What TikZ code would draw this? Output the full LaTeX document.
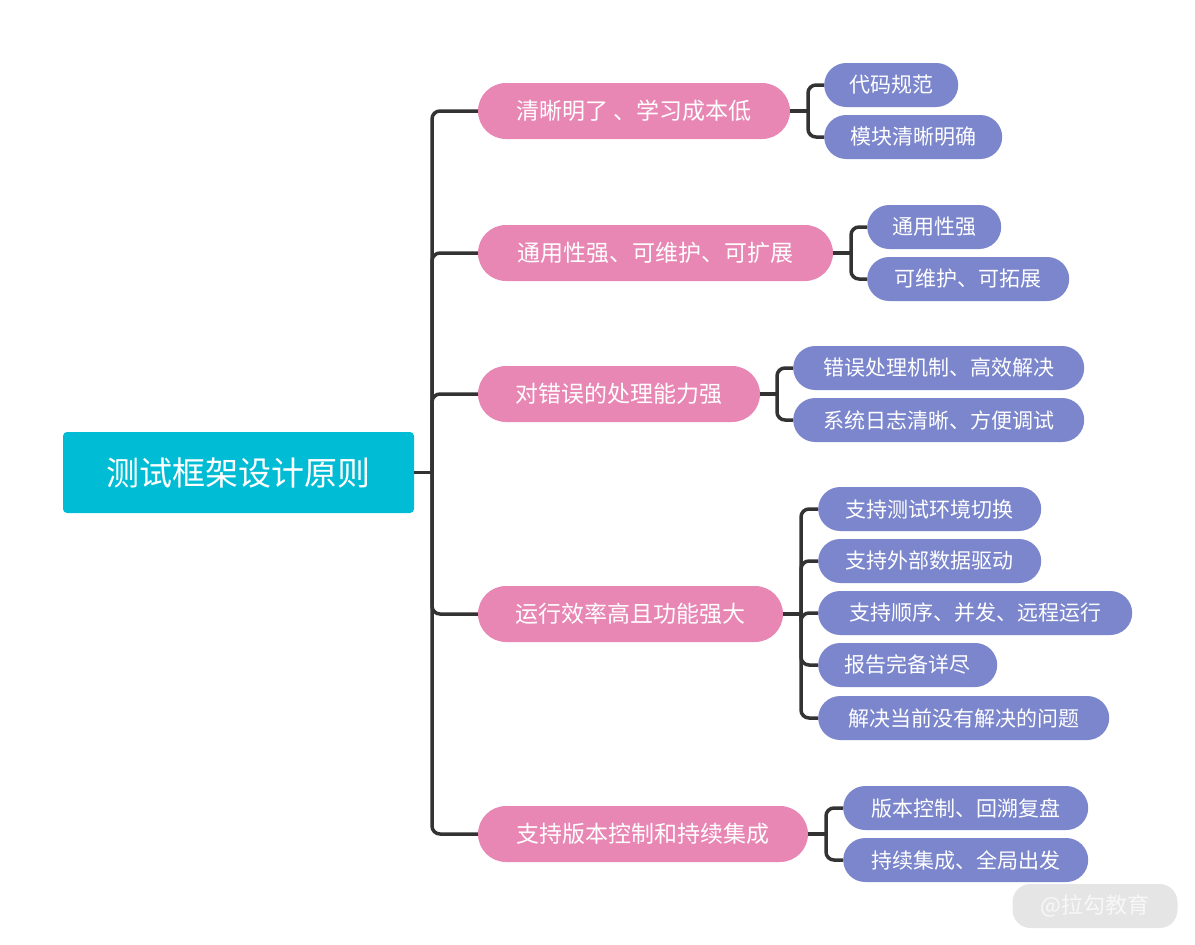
\documentclass[tikz,border=0pt]{standalone}
\usepackage{fontspec}
\newfontfamily\cjk{Noto Sans CJK SC}
\definecolor{rootc}{RGB}{0,188,212}
\definecolor{pinkc}{RGB}{232,135,180}
\definecolor{bluec}{RGB}{123,134,204}
\definecolor{linec}{RGB}{51,51,51}
\begin{document}
\begin{tikzpicture}[x=1pt,y=-1pt,
  root/.style={fill=rootc,rounded corners=4pt,text=white,font=\cjk\fontsize{33}{36}\selectfont,minimum width=351pt,minimum height=81pt,inner sep=0pt},
  pk/.style={fill=pinkc,rounded corners=28pt,text=white,font=\cjk\fontsize{23}{26}\selectfont,minimum height=56pt,inner sep=0pt},
  bl/.style={fill=bluec,rounded corners=22pt,text=white,font=\cjk\fontsize{21}{24}\selectfont,minimum height=44pt,inner sep=0pt},
  ln/.style={draw=linec,line width=3.5pt,rounded corners=8pt}]
\useasboundingbox (0,0) rectangle (1195,945);
\node[root] (r) at (238.5,472.5) {测试框架设计原则};
\node[pk,minimum width=312pt] (p1) at (634,111) {清晰明了 、学习成本低};
\node[pk,minimum width=355pt] (p2) at (655.5,253) {通用性强、可维护、可扩展};
\node[pk,minimum width=282pt] (p3) at (619,394) {对错误的处理能力强};
\node[pk,minimum width=305pt] (p4) at (630.5,614) {运行效率高且功能强大};
\node[pk,minimum width=330pt] (p5) at (643,834) {支持版本控制和持续集成};
\node[bl,minimum width=134pt,anchor=west] (a1) at (824,85) {代码规范};
\node[bl,minimum width=178pt,anchor=west] (a2) at (824,137) {模块清晰明确};
\node[bl,minimum width=134pt,anchor=west] (b1) at (867,227) {通用性强};
\node[bl,minimum width=202pt,anchor=west] (b2) at (867,279) {可维护、可拓展};
\node[bl,minimum width=291pt,anchor=west] (c1) at (793,368) {错误处理机制、高效解决};
\node[bl,minimum width=291pt,anchor=west] (c2) at (793,420) {系统日志清晰、方便调试};
\node[bl,minimum width=223pt,anchor=west] (d1) at (818,509) {支持测试环境切换};
\node[bl,minimum width=223pt,anchor=west] (d2) at (818,561) {支持外部数据驱动};
\node[bl,minimum width=314pt,anchor=west] (d3) at (818,613) {支持顺序、并发、远程运行};
\node[bl,minimum width=179pt,anchor=west] (d4) at (818,665) {报告完备详尽};
\node[bl,minimum width=291pt,anchor=west] (d5) at (818,718) {解决当前没有解决的问题};
\node[bl,minimum width=245pt,anchor=west] (e1) at (843,808) {版本控制、回溯复盘};
\node[bl,minimum width=245pt,anchor=west] (e2) at (843,860) {持续集成、全局出发};
\coordinate (t) at (432,472.5);
\draw[ln] (r.east) -- (t);
\foreach \p in {p1,p2,p3,p4,p5} \draw[ln] (t) |- (\p.west);
\foreach \p/\x/\cs in {p1/808/{a1,a2},p2/851/{b1,b2},p3/777/{c1,c2},p4/801/{d1,d2,d3,d4,d5},p5/826/{e1,e2}}{
  \draw[ln] (\p.east) -- (\x,0 |- \p.east);
  \foreach \c in \cs \draw[ln] (\x,0 |- \p.east) |- (\c.west);
}
\node[fill=gray!25,opacity=0.8,text opacity=0.7,text=white,rounded corners=18pt,font=\cjk\fontsize{22}{24}\selectfont,minimum width=165pt,minimum height=44pt] (w) at (1095,906) {@拉勾教育};
\end{tikzpicture}
\end{document}
